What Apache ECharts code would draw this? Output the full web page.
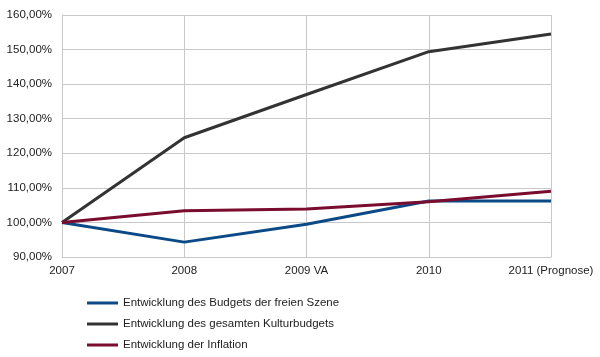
<!DOCTYPE html>
<html><head><meta charset="utf-8">
<script src="https://cdn.jsdelivr.net/npm/echarts@6/dist/echarts.min.js"></script>
<style>html,body{margin:0;padding:0;background:#fff}#c{width:600px;height:357px}</style>
</head><body><div id="c"></div>
<script>
const categories = ['2007', '2008', '2009 VA', '2010', '2011 (Prognose)'];
const freieSzene = [100, 94.3, 99.5, 106.2, 106.2];
const kulturbudget = [100, 124.5, 137.0, 149.4, 154.5];
const inflation = [100, 103.4, 103.9, 106.0, 109.0];
const seriesNames = ['Entwicklung des Budgets der freien Szene', 'Entwicklung des gesamten Kulturbudgets', 'Entwicklung der Inflation'];
const colors = ['#0b4a86', '#333333', '#7a0c2e'];

const chart = echarts.init(document.getElementById('c'));
const font = 'Liberation Sans';
chart.setOption({
  animation: false,
  grid: { left: 62, right: 49, top: 15, bottom: 100 },
  xAxis: {
    type: 'category', data: categories, boundaryGap: false,
    axisLine: { lineStyle: { color: '#c8c8c8' } },
    axisTick: { show: false },
    splitLine: { show: true, lineStyle: { color: '#c8c8c8' } },
    axisLabel: { color: '#222', fontFamily: font, fontSize: 11.5, margin: 8, interval: 0 }
  },
  yAxis: {
    type: 'value', min: 90, max: 160, interval: 10,
    axisLine: { show: true, lineStyle: { color: '#c8c8c8' } },
    axisTick: { show: false },
    splitLine: { lineStyle: { color: '#c8c8c8' } },
    axisLabel: { color: '#222', fontFamily: font, fontSize: 11.5, margin: 10,
      formatter: v => v.toFixed(2).replace('.', ',') + '%' }
  },
  legend: {
    orient: 'vertical', left: 82, top: 292, itemWidth: 31, itemHeight: 3, itemGap: 9,
    icon: 'rect',
    textStyle: { color: '#222', fontFamily: font, fontSize: 11.5 },
    data: seriesNames
  },
  series: [freieSzene, kulturbudget, inflation].map((d, i) => ({
    name: seriesNames[i], type: 'line', data: d, symbol: 'none',
    lineStyle: { width: 3, color: colors[i] }, itemStyle: { color: colors[i] }
  }))
});
</script></body></html>
